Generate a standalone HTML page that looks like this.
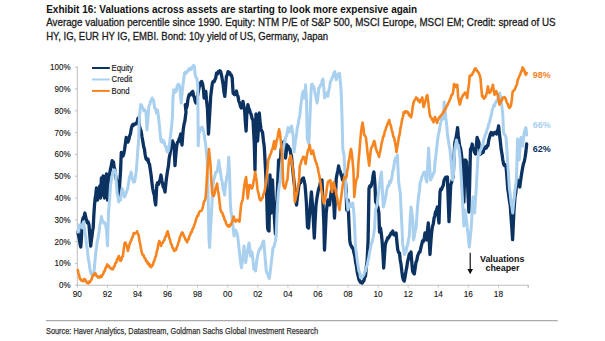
<!DOCTYPE html>
<html><head><meta charset="utf-8"><style>
html,body{margin:0;padding:0;background:#fff;}
svg{display:block;}
text{font-family:"Liberation Sans",sans-serif;}
</style></head><body>
<svg width="605" height="341" viewBox="0 0 605 341">
<rect width="605" height="341" fill="#fff"/>
<text x="46.2" y="12.9" font-size="11.3" font-weight="bold" fill="#111" textLength="371" lengthAdjust="spacingAndGlyphs">Exhibit 16: Valuations across assets are starting to look more expensive again</text>
<text x="46.2" y="26.4" font-size="11" fill="#1a1a1a" stroke="#1a1a1a" stroke-width="0.3" textLength="509.4" lengthAdjust="spacingAndGlyphs">Average valuation percentile since 1990. Equity: NTM P/E of S&amp;P 500, MSCI Europe, MSCI EM; Credit: spread of US</text>
<text x="46.2" y="39.9" font-size="11" fill="#1a1a1a" stroke="#1a1a1a" stroke-width="0.3" textLength="281.9" lengthAdjust="spacingAndGlyphs">HY, IG, EUR HY IG, EMBI. Bond: 10y yield of US, Germany, Japan</text>
<g stroke="#bdbdbd" stroke-width="1" fill="none">
<line x1="77.3" y1="66.3" x2="77.3" y2="285.2"/>
<line x1="77.3" y1="285.2" x2="528" y2="285.2"/>
<line x1="75.2" y1="285.2" x2="77.3" y2="285.2"/><line x1="75.2" y1="263.4" x2="77.3" y2="263.4"/><line x1="75.2" y1="241.6" x2="77.3" y2="241.6"/><line x1="75.2" y1="219.8" x2="77.3" y2="219.8"/><line x1="75.2" y1="198.0" x2="77.3" y2="198.0"/><line x1="75.2" y1="176.2" x2="77.3" y2="176.2"/><line x1="75.2" y1="154.4" x2="77.3" y2="154.4"/><line x1="75.2" y1="132.6" x2="77.3" y2="132.6"/><line x1="75.2" y1="110.8" x2="77.3" y2="110.8"/><line x1="75.2" y1="89.0" x2="77.3" y2="89.0"/><line x1="75.2" y1="67.2" x2="77.3" y2="67.2"/><line x1="77.3" y1="285.2" x2="77.3" y2="287.5"/><line x1="107.4" y1="285.2" x2="107.4" y2="287.5"/><line x1="137.5" y1="285.2" x2="137.5" y2="287.5"/><line x1="167.5" y1="285.2" x2="167.5" y2="287.5"/><line x1="197.6" y1="285.2" x2="197.6" y2="287.5"/><line x1="227.7" y1="285.2" x2="227.7" y2="287.5"/><line x1="257.8" y1="285.2" x2="257.8" y2="287.5"/><line x1="287.9" y1="285.2" x2="287.9" y2="287.5"/><line x1="317.9" y1="285.2" x2="317.9" y2="287.5"/><line x1="348.0" y1="285.2" x2="348.0" y2="287.5"/><line x1="378.1" y1="285.2" x2="378.1" y2="287.5"/><line x1="408.2" y1="285.2" x2="408.2" y2="287.5"/><line x1="438.3" y1="285.2" x2="438.3" y2="287.5"/><line x1="468.3" y1="285.2" x2="468.3" y2="287.5"/><line x1="498.4" y1="285.2" x2="498.4" y2="287.5"/><line x1="528.5" y1="285.2" x2="528.5" y2="287.5"/>
<line x1="528" y1="285.2" x2="528" y2="287.5"/>
</g>
<g font-size="8.7" fill="#111" stroke="#111" stroke-width="0.12" transform="translate(70.5 0) scale(0.92 1) translate(-70.5 0)"><text x="70.5" y="288.3" text-anchor="end">0%</text><text x="70.5" y="266.5" text-anchor="end">10%</text><text x="70.5" y="244.7" text-anchor="end">20%</text><text x="70.5" y="222.9" text-anchor="end">30%</text><text x="70.5" y="201.1" text-anchor="end">40%</text><text x="70.5" y="179.3" text-anchor="end">50%</text><text x="70.5" y="157.5" text-anchor="end">60%</text><text x="70.5" y="135.7" text-anchor="end">70%</text><text x="70.5" y="113.9" text-anchor="end">80%</text><text x="70.5" y="92.1" text-anchor="end">90%</text><text x="70.5" y="70.3" text-anchor="end">100%</text></g>
<g font-size="9.2" fill="#111" stroke="#111" stroke-width="0.12"><text x="77.3" y="297.1" text-anchor="middle" transform="translate(77.3 0) scale(0.9 1) translate(-77.3 0)">90</text><text x="107.4" y="297.1" text-anchor="middle" transform="translate(107.4 0) scale(0.9 1) translate(-107.4 0)">92</text><text x="137.5" y="297.1" text-anchor="middle" transform="translate(137.5 0) scale(0.9 1) translate(-137.5 0)">94</text><text x="167.5" y="297.1" text-anchor="middle" transform="translate(167.5 0) scale(0.9 1) translate(-167.5 0)">96</text><text x="197.6" y="297.1" text-anchor="middle" transform="translate(197.6 0) scale(0.9 1) translate(-197.6 0)">98</text><text x="227.7" y="297.1" text-anchor="middle" transform="translate(227.7 0) scale(0.9 1) translate(-227.7 0)">00</text><text x="257.8" y="297.1" text-anchor="middle" transform="translate(257.8 0) scale(0.9 1) translate(-257.8 0)">02</text><text x="287.9" y="297.1" text-anchor="middle" transform="translate(287.9 0) scale(0.9 1) translate(-287.9 0)">04</text><text x="317.9" y="297.1" text-anchor="middle" transform="translate(317.9 0) scale(0.9 1) translate(-317.9 0)">06</text><text x="348.0" y="297.1" text-anchor="middle" transform="translate(348.0 0) scale(0.9 1) translate(-348.0 0)">08</text><text x="378.1" y="297.1" text-anchor="middle" transform="translate(378.1 0) scale(0.9 1) translate(-378.1 0)">10</text><text x="408.2" y="297.1" text-anchor="middle" transform="translate(408.2 0) scale(0.9 1) translate(-408.2 0)">12</text><text x="438.3" y="297.1" text-anchor="middle" transform="translate(438.3 0) scale(0.9 1) translate(-438.3 0)">14</text><text x="468.3" y="297.1" text-anchor="middle" transform="translate(468.3 0) scale(0.9 1) translate(-468.3 0)">16</text><text x="498.4" y="297.1" text-anchor="middle" transform="translate(498.4 0) scale(0.9 1) translate(-498.4 0)">18</text></g>
<g fill="none" stroke-linejoin="round" stroke-linecap="round">
<path d="M77.8 232.0 L78.7 236.5 L79.5 240.0 L80.2 244.8 L80.8 247.0 L81.4 238.7 L82.0 228.0 L82.4 221.0 L83.2 217.7 L84.1 216.6 L84.9 213.0 L85.7 217.3 L86.5 220.0 L87.3 222.7 L88.2 222.1 L89.0 225.0 L89.8 235.1 L90.7 246.0 L91.3 240.7 L92.0 236.0 L92.6 230.7 L93.2 228.0 L93.8 215.7 L94.5 205.0 L95.1 198.8 L95.7 195.0 L96.5 188.0 L97.5 200.0 L98.5 192.0 L99.2 189.3 L99.8 186.0 L100.5 198.0 L101.4 178.0 L102.5 195.0 L103.1 176.0 L103.8 187.8 L104.5 198.0 L105.5 180.0 L106.5 174.0 L107.5 200.0 L108.5 178.0 L109.5 174.7 L110.5 169.0 L111.3 165.4 L112.2 160.6 L112.8 162.7 L113.5 162.0 L114.1 166.9 L114.7 169.0 L115.3 173.8 L116.0 178.0 L117.0 181.8 L118.0 185.0 L118.8 198.0 L119.7 184.1 L120.5 172.0 L121.3 152.4 L122.2 155.6 L123.0 156.0 L123.8 153.8 L124.5 150.0 L125.3 144.3 L126.2 137.5 L127.1 140.6 L128.0 142.0 L128.8 139.7 L129.6 136.1 L130.4 134.0 L131.2 129.2 L132.0 126.0 L132.8 124.4 L133.7 125.2 L134.5 124.0 L135.5 124.1 L136.5 123.0 L137.2 121.8 L137.9 118.6 L138.6 117.7 L139.5 126.0 L140.3 129.1 L141.1 131.0 L141.9 136.3 L142.8 141.0 L143.6 146.3 L144.4 149.0 L145.2 155.0 L146.1 159.0 L147.1 160.1 L148.0 159.0 L148.7 162.9 L149.5 164.2 L150.2 169.0 L151.0 174.2 L151.9 182.4 L152.7 188.5 L153.5 192.4 L154.3 195.0 L155.0 201.2 L155.7 205.0 L156.8 185.0 L157.6 182.8 L158.5 184.4 L159.3 182.0 L160.2 179.3 L161.0 175.0 L161.8 180.3 L162.5 183.0 L163.3 187.1 L164.2 188.3 L165.0 192.0 L165.8 184.0 L166.5 178.0 L167.6 170.5 L168.4 166.4 L169.2 158.2 L170.0 154.0 L170.8 148.8 L171.7 146.3 L172.5 141.0 L173.2 143.3 L174.0 145.0 L175.0 165.6 L175.8 155.2 L176.7 146.0 L177.5 142.4 L178.3 142.1 L179.1 139.0 L179.9 137.0 L180.8 134.0 L182.0 145.0 L182.7 136.0 L183.3 129.0 L184.1 123.9 L184.9 121.0 L186.0 112.0 L185.3 104.6 L186.5 108.0 L187.2 105.2 L187.9 99.5 L188.6 96.4 L189.4 94.4 L190.3 95.0 L191.1 93.0 L191.9 93.4 L192.7 91.4 L193.6 95.6 L194.5 98.0 L195.2 101.3 L196.0 103.0 L196.8 100.4 L197.5 96.0 L198.4 91.5 L199.3 86.4 L200.1 85.1 L201.0 82.0 L201.8 81.5 L202.7 84.2 L203.5 89.8 L204.1 98.0 L204.9 95.7 L205.8 91.4 L206.5 100.0 L207.4 108.0 L208.5 134.0 L209.7 114.0 L210.7 96.4 L211.6 89.0 L212.4 83.1 L213.2 81.5 L214.1 81.8 L214.9 79.8 L215.7 78.0 L216.5 73.2 L217.3 74.2 L218.2 71.7 L219.0 72.4 L219.8 70.7 L220.7 71.6 L221.5 75.1 L222.3 79.8 L223.1 84.4 L224.0 92.3 L224.8 96.4 L225.6 87.4 L226.4 76.5 L227.2 74.9 L228.1 71.6 L228.9 73.3 L229.8 72.8 L230.6 74.9 L231.4 75.1 L232.2 78.2 L233.1 93.0 L233.9 94.2 L234.7 94.7 L235.6 94.1 L236.5 91.0 L237.2 95.0 L238.0 96.4 L238.8 101.1 L239.7 103.0 L240.5 106.7 L241.3 108.0 L242.2 105.9 L243.0 101.3 L243.8 106.4 L244.6 109.6 L245.3 121.3 L246.1 131.0 L246.8 114.5 L247.9 104.6 L248.7 108.1 L249.5 110.0 L250.3 112.6 L251.2 114.5 L252.1 118.6 L253.0 120.0 L253.7 133.0 L254.3 144.0 L255.0 170.0 L256.0 114.0 L256.8 128.0 L257.6 141.0 L258.5 127.9 L259.3 113.0 L260.1 121.9 L261.0 129.0 L261.8 131.2 L262.5 132.0 L263.4 140.2 L264.3 147.0 L265.1 162.0 L265.8 175.1 L266.5 190.0 L267.6 228.0 L268.3 230.5 L269.0 231.0 L270.0 175.0 L271.0 213.0 L271.8 197.5 L272.5 180.0 L273.2 195.8 L274.0 210.0 L274.7 222.3 L275.4 234.0 L276.2 217.6 L277.0 200.0 L277.8 180.5 L278.6 160.0 L279.3 166.0 L280.0 170.0 L281.0 150.0 L281.8 146.1 L282.5 146.2 L283.3 142.4 L284.5 141.0 L285.5 158.0 L286.2 152.8 L287.0 145.0 L287.7 147.3 L288.4 146.4 L289.2 149.3 L289.9 149.0 L290.7 153.6 L291.5 156.0 L292.2 164.4 L293.0 172.0 L293.9 180.6 L294.8 188.2 L295.6 198.0 L296.5 205.0 L297.2 199.1 L298.0 192.0 L299.0 185.0 L299.8 182.9 L300.6 182.7 L301.4 180.0 L302.1 180.0 L302.8 178.3 L303.5 178.0 L304.2 181.0 L305.0 185.0 L305.7 193.1 L306.4 203.0 L307.5 227.0 L308.5 228.0 L309.2 218.5 L310.0 210.0 L310.7 200.4 L311.4 192.0 L312.2 201.3 L313.0 213.0 L313.6 224.7 L314.3 238.0 L315.1 220.8 L316.0 205.0 L317.0 197.6 L318.0 192.0 L318.8 188.3 L319.7 186.1 L320.5 182.0 L321.2 181.8 L322.0 180.0 L322.9 201.5 L323.8 222.0 L324.5 250.0 L325.4 231.1 L326.2 213.0 L327.1 205.1 L328.0 200.0 L328.8 201.6 L329.5 205.0 L330.4 197.9 L331.2 192.0 L332.0 187.5 L332.8 185.0 L333.6 200.2 L334.5 218.0 L335.4 198.2 L336.2 179.0 L337.0 174.3 L337.8 170.8 L338.6 166.0 L339.4 170.2 L340.3 171.5 L341.1 175.0 L341.8 176.4 L342.5 180.0 L343.5 175.9 L344.5 174.0 L345.3 180.5 L346.1 189.0 L346.7 210.0 L347.4 205.6 L348.0 200.0 L348.9 222.0 L349.8 241.0 L350.6 244.8 L351.4 246.0 L352.2 247.9 L353.0 248.0 L353.9 252.6 L354.8 256.0 L355.6 262.1 L356.4 266.0 L357.2 271.8 L358.1 276.0 L358.9 279.5 L359.7 281.0 L360.5 282.4 L361.4 282.5 L362.2 283.1 L363.0 281.1 L363.8 281.0 L364.6 277.8 L365.5 276.0 L366.3 267.0 L367.1 261.0 L368.1 240.0 L369.0 188.5 L369.8 186.0 L370.6 186.8 L371.4 185.0 L372.5 180.0 L373.2 174.7 L373.9 172.0 L375.0 185.0 L375.6 202.0 L376.4 202.8 L377.2 205.0 L378.0 207.6 L378.9 213.0 L379.5 232.0 L380.5 228.0 L381.2 232.8 L382.0 240.0 L382.9 253.2 L383.7 268.0 L384.5 255.6 L385.3 244.5 L386.1 241.9 L387.0 240.0 L387.8 237.6 L388.5 238.0 L389.5 236.0 L390.3 234.8 L391.1 233.0 L392.0 233.3 L392.8 231.0 L393.6 234.5 L394.5 235.0 L395.3 235.0 L396.1 233.0 L396.9 241.8 L397.7 249.5 L398.6 252.6 L399.5 253.0 L400.2 260.0 L401.0 264.0 L401.9 271.9 L402.7 277.6 L403.5 280.2 L404.3 281.0 L405.1 276.8 L406.0 271.0 L406.8 267.2 L407.5 262.0 L408.4 258.5 L409.3 254.0 L410.1 254.1 L411.0 252.0 L411.8 262.3 L412.6 271.0 L413.5 273.0 L414.3 274.0 L415.1 268.4 L416.0 262.0 L416.8 260.4 L417.6 256.0 L418.4 254.0 L419.2 252.1 L420.0 252.0 L420.9 247.6 L421.7 244.5 L422.5 241.0 L423.4 241.5 L424.2 238.0 L425.0 233.0 L425.8 236.2 L426.5 240.0 L427.4 231.0 L428.3 223.0 L429.1 238.1 L430.0 254.5 L430.8 242.3 L431.6 233.0 L432.4 226.8 L433.3 223.7 L434.1 218.0 L434.8 215.6 L435.5 212.0 L436.4 210.6 L437.4 207.0 L438.2 216.3 L439.0 223.0 L440.0 192.0 L440.8 188.9 L441.6 189.4 L442.4 187.0 L443.2 185.6 L444.1 180.3 L444.9 178.6 L445.7 177.2 L446.6 179.0 L447.4 177.0 L448.2 199.9 L449.0 221.6 L449.9 204.5 L450.7 185.0 L451.5 182.7 L452.4 179.2 L453.2 177.0 L454.0 158.3 L454.8 142.4 L456.0 138.0 L456.8 133.4 L457.6 127.6 L458.3 135.5 L459.0 141.0 L459.8 146.4 L460.6 148.4 L461.4 154.0 L462.2 161.3 L463.0 170.0 L463.9 202.0 L465.0 160.0 L465.8 160.3 L466.5 162.0 L467.3 178.0 L468.1 196.7 L468.9 212.0 L469.7 181.5 L470.5 149.0 L471.4 147.9 L472.2 144.0 L473.0 148.4 L473.8 150.0 L474.6 152.5 L475.5 154.0 L476.3 146.7 L477.1 137.5 L478.0 140.2 L478.8 142.0 L479.6 148.3 L480.5 154.0 L481.5 153.4 L482.5 152.0 L483.2 152.3 L483.9 148.8 L484.6 149.0 L485.4 146.9 L486.2 148.1 L487.1 145.6 L487.9 145.8 L488.7 140.4 L489.5 137.5 L490.4 134.2 L491.2 132.5 L492.0 132.8 L492.9 135.0 L493.7 133.2 L494.5 132.5 L495.5 132.9 L496.5 134.0 L497.2 130.7 L497.9 130.0 L498.6 126.0 L499.5 134.5 L500.3 141.0 L501.1 148.9 L502.0 154.0 L502.8 159.8 L503.6 164.0 L504.4 165.6 L505.3 164.8 L506.1 167.0 L506.9 176.5 L507.7 188.5 L508.5 193.7 L509.4 200.6 L510.2 205.0 L511.0 216.5 L511.8 227.7 L512.6 239.7 L513.3 224.4 L514.0 210.0 L515.0 197.0 L515.8 192.7 L516.5 185.3 L517.3 180.0 L517.9 181.9 L518.5 185.0 L519.1 184.5 L519.8 187.0 L520.4 181.7 L521.0 178.0 L521.8 172.6 L522.6 168.0 L523.4 163.9 L524.3 161.5 L525.1 157.3 L525.9 151.8 L526.7 144.0" stroke="#0c3262" stroke-width="3.3"/>
<path d="M77.8 232.0 L78.4 229.9 L79.0 225.0 L80.0 225.0 L81.0 225.1 L82.0 228.0 L82.8 224.6 L83.5 222.0 L84.2 226.3 L85.0 232.6 L85.7 236.0 L86.5 244.5 L87.4 249.6 L88.2 258.0 L89.0 262.2 L89.9 268.8 L90.7 272.6 L91.6 274.5 L92.4 274.3 L93.2 274.1 L94.0 272.0 L94.8 263.0 L95.7 253.0 L96.5 247.8 L97.3 241.0 L97.9 238.8 L98.5 235.0 L99.2 231.2 L99.8 225.0 L100.6 222.3 L101.4 216.6 L102.2 220.2 L103.0 221.0 L103.9 223.3 L104.7 222.8 L105.6 225.0 L106.5 230.0 L107.5 246.0 L108.5 212.0 L109.1 205.8 L109.7 198.4 L110.5 185.2 L111.3 179.9 L112.2 175.3 L113.0 172.3 L113.8 170.0 L114.7 170.1 L115.5 172.0 L116.3 182.1 L117.1 193.5 L117.9 197.0 L118.8 202.0 L119.7 199.6 L120.5 200.0 L121.3 193.3 L122.1 188.5 L122.9 190.4 L123.8 194.8 L124.6 197.0 L125.5 194.8 L126.5 192.0 L127.2 190.2 L127.9 187.0 L128.7 182.5 L129.5 177.0 L130.3 175.4 L131.2 172.0 L132.1 177.5 L132.9 180.0 L133.7 182.1 L134.5 182.0 L135.3 177.5 L136.2 172.0 L137.0 162.0 L137.8 150.1 L138.6 141.0 L139.5 116.0 L140.7 104.6 L141.6 105.0 L142.5 108.0 L143.2 108.3 L144.0 111.0 L145.0 110.1 L146.0 112.0 L147.0 130.0 L147.9 119.2 L148.9 106.0 L149.8 104.7 L150.6 101.0 L151.4 100.2 L152.2 98.0 L152.8 100.5 L153.5 100.0 L154.7 108.0 L155.6 109.0 L156.4 113.0 L157.5 110.0 L158.5 117.0 L159.3 124.5 L160.2 134.2 L161.0 141.0 L161.8 142.2 L162.7 140.1 L163.5 141.0 L164.3 142.3 L165.1 146.3 L166.0 146.2 L166.8 150.7 L167.6 152.0 L168.3 151.3 L169.0 148.0 L169.9 141.0 L170.9 132.5 L171.7 125.6 L172.5 116.0 L172.9 99.7 L173.7 89.8 L174.6 92.3 L175.5 92.0 L176.3 90.5 L177.1 86.2 L177.9 84.8 L178.7 84.0 L179.5 86.0 L180.3 93.3 L181.2 103.0 L182.0 93.8 L182.8 86.4 L183.7 79.2 L184.5 73.2 L185.3 72.0 L186.1 73.3 L186.9 71.6 L187.7 71.5 L188.6 69.1 L189.4 69.9 L190.2 68.4 L191.1 69.6 L191.9 67.4 L192.7 67.8 L193.6 65.4 L194.4 66.6 L195.2 74.9 L196.1 77.7 L196.9 78.2 L197.7 84.8 L198.0 116.0 L198.2 145.8 L199.0 132.5 L199.8 131.8 L200.6 128.3 L201.4 127.6 L202.2 127.2 L203.0 129.0 L203.9 132.5 L204.8 139.3 L205.6 144.0 L206.4 153.0 L207.2 160.6 L208.2 200.0 L209.0 240.0 L209.6 247.4 L210.5 230.0 L211.3 215.5 L212.2 199.1 L213.0 185.0 L213.8 179.6 L214.7 177.0 L215.3 173.5 L216.0 172.0 L217.1 172.0 L217.9 166.7 L218.8 160.6 L219.7 167.6 L220.5 172.0 L221.3 178.7 L222.2 181.6 L223.0 188.5 L223.8 191.2 L224.6 195.0 L225.3 187.3 L226.0 182.0 L226.9 176.6 L227.9 172.0 L228.7 157.3 L229.5 172.0 L230.4 205.0 L231.2 212.6 L232.0 218.0 L232.7 224.6 L233.4 229.4 L234.1 236.0 L234.8 231.6 L235.5 230.0 L236.4 231.9 L237.4 234.6 L238.2 240.3 L239.0 247.8 L239.9 256.0 L240.7 263.2 L241.5 267.7 L242.2 262.9 L243.0 257.0 L244.0 246.0 L244.8 253.8 L245.7 262.7 L246.5 256.4 L247.3 252.8 L248.2 247.1 L249.0 243.0 L249.8 248.3 L250.6 256.0 L251.3 253.7 L252.0 252.0 L252.9 259.9 L253.9 269.3 L254.8 269.6 L255.6 271.0 L256.4 263.3 L257.2 257.8 L258.0 254.0 L258.9 251.0 L259.7 248.6 L260.5 249.0 L261.4 246.4 L262.2 244.5 L263.0 241.6 L263.8 241.0 L264.7 253.0 L265.5 262.3 L266.3 271.0 L267.1 273.3 L268.0 274.3 L268.6 277.6 L269.3 278.4 L270.3 271.0 L271.3 262.7 L272.1 255.8 L273.0 247.8 L273.8 247.3 L274.6 244.5 L275.4 241.0 L276.2 236.0 L277.0 215.0 L277.6 203.9 L278.3 193.5 L279.1 186.3 L280.0 182.0 L280.8 173.0 L281.5 165.0 L282.2 157.2 L283.0 150.0 L284.0 144.3 L285.0 140.0 L285.8 137.0 L286.6 136.0 L287.4 130.6 L288.2 127.6 L288.9 129.4 L289.5 132.0 L290.5 128.3 L291.5 126.0 L292.4 130.7 L293.2 136.0 L294.0 152.0 L294.8 146.8 L295.5 140.0 L296.4 136.0 L297.2 128.3 L298.1 124.3 L299.0 118.8 L299.8 116.0 L300.6 107.4 L301.4 101.3 L302.2 95.0 L303.1 91.4 L304.0 98.0 L304.8 92.5 L305.6 84.8 L306.5 100.0 L307.2 137.5 L308.0 141.6 L308.9 144.0 L310.0 116.0 L310.7 99.8 L311.4 84.8 L312.2 84.2 L313.0 86.5 L313.8 86.4 L314.6 91.0 L315.5 94.7 L316.3 99.7 L317.1 103.0 L318.0 96.8 L318.8 88.0 L319.6 87.4 L320.5 84.9 L321.3 84.8 L322.1 81.1 L322.9 79.0 L323.8 87.6 L324.6 98.0 L325.3 95.0 L326.0 93.0 L326.9 93.2 L327.9 96.4 L328.7 90.8 L329.6 87.5 L330.4 81.5 L331.2 80.6 L332.1 77.8 L332.9 76.5 L333.9 73.1 L334.8 71.6 L335.5 75.2 L336.2 79.8 L337.0 77.0 L337.8 74.9 L338.6 73.7 L339.5 73.2 L340.3 81.0 L341.1 89.8 L342.0 116.0 L342.8 149.0 L344.0 155.0 L344.7 168.2 L345.4 179.6 L346.1 193.5 L347.1 200.8 L348.0 210.0 L348.7 206.0 L349.4 205.0 L350.1 203.6 L350.9 206.5 L351.6 205.0 L352.7 203.0 L353.4 208.4 L354.0 215.0 L354.8 230.6 L355.6 247.8 L356.4 253.3 L357.3 260.9 L358.1 266.0 L358.9 270.9 L359.7 272.5 L360.5 277.6 L361.3 275.9 L362.2 277.1 L363.0 276.0 L363.8 275.1 L364.7 271.7 L365.5 271.0 L366.3 267.4 L367.2 264.7 L368.0 261.0 L368.8 257.4 L369.7 251.8 L370.5 247.8 L371.3 243.4 L372.2 241.9 L373.0 238.0 L373.8 233.4 L374.6 228.0 L375.5 210.0 L376.4 207.0 L377.2 205.0 L378.0 196.9 L378.9 190.0 L379.7 182.9 L380.5 177.0 L381.5 172.0 L382.4 190.4 L383.3 207.0 L384.1 204.4 L385.0 200.0 L385.8 196.3 L386.7 190.3 L387.5 187.0 L388.2 185.0 L389.0 185.6 L389.7 181.3 L390.5 182.6 L391.2 180.0 L392.0 176.8 L392.7 171.1 L393.5 169.0 L394.2 163.6 L395.0 160.0 L395.8 157.5 L396.6 157.6 L397.4 155.0 L398.0 169.0 L398.7 182.0 L399.5 188.2 L400.4 193.5 L401.2 212.0 L402.0 228.0 L402.7 244.5 L403.5 248.7 L404.3 254.4 L405.1 252.3 L406.0 252.0 L406.8 246.7 L407.6 245.2 L408.5 239.6 L409.3 236.3 L410.1 220.2 L411.0 207.0 L411.9 212.8 L412.8 220.0 L413.5 240.0 L414.4 236.3 L415.2 230.9 L416.1 228.0 L416.9 216.1 L417.7 205.0 L418.5 196.7 L419.4 191.0 L420.2 182.0 L421.0 180.8 L421.9 177.0 L422.7 175.0 L423.6 172.7 L424.5 172.0 L425.3 174.5 L426.0 179.5 L426.8 182.0 L427.7 165.5 L428.6 148.0 L429.6 165.0 L430.5 180.0 L431.5 178.0 L432.2 176.1 L432.9 175.6 L433.6 172.8 L434.3 172.0 L435.0 162.0 L435.8 156.4 L436.7 147.6 L437.5 141.0 L438.3 134.8 L439.2 131.5 L440.0 126.0 L441.0 121.5 L442.0 115.0 L442.6 117.8 L443.3 119.0 L444.1 102.0 L445.0 110.0 L445.8 117.9 L446.6 124.0 L447.3 132.2 L448.0 138.0 L448.9 144.3 L449.9 149.0 L450.7 157.7 L451.5 165.6 L452.5 180.0 L453.5 175.0 L454.1 162.4 L454.8 149.0 L455.6 144.9 L456.5 140.0 L457.3 144.3 L458.2 144.9 L459.0 149.0 L459.8 155.5 L460.5 165.0 L461.4 179.9 L462.3 197.0 L463.1 211.2 L463.8 226.0 L465.0 210.0 L465.8 216.1 L466.5 220.0 L467.2 227.7 L468.0 233.0 L468.6 241.2 L469.3 247.0 L470.1 239.4 L471.0 230.0 L471.8 218.2 L472.5 205.0 L473.0 197.0 L473.8 204.2 L474.6 213.0 L475.5 199.5 L476.3 188.5 L477.1 172.1 L478.0 157.0 L478.8 154.1 L479.6 153.9 L480.5 149.6 L481.3 149.0 L482.1 144.9 L483.0 144.7 L483.8 139.1 L484.6 137.5 L485.4 134.4 L486.2 133.1 L487.1 129.2 L487.9 127.6 L488.7 124.1 L489.5 122.6 L490.4 117.8 L491.2 116.0 L492.1 110.6 L493.0 108.0 L493.8 105.3 L494.5 105.9 L495.3 103.0 L496.1 102.3 L497.0 100.1 L497.8 99.7 L498.6 94.9 L499.5 93.0 L500.2 96.0 L501.0 100.0 L501.9 106.4 L502.8 114.5 L503.5 132.0 L504.3 134.2 L505.2 135.3 L506.0 137.5 L506.8 147.4 L507.5 160.0 L508.4 172.8 L509.4 188.5 L510.2 194.2 L511.0 202.0 L511.9 207.0 L512.7 213.0 L513.5 204.3 L514.3 197.0 L515.0 190.0 L515.8 184.1 L516.5 177.0 L517.6 139.0 L518.5 148.4 L519.3 160.0 L520.1 147.6 L521.0 137.5 L521.8 140.9 L522.6 146.0 L523.5 138.3 L524.3 132.5 L525.1 129.6 L525.9 127.6 L526.7 135.0" stroke="#a9d0ee" stroke-width="3.0"/>
<path d="M77.8 270.0 L78.3 272.6 L79.2 275.4 L80.0 279.2 L80.8 279.0 L81.7 281.0 L82.5 281.0 L83.3 281.2 L84.1 279.0 L84.9 279.2 L85.8 280.5 L86.6 282.5 L87.4 282.7 L88.2 283.4 L89.0 281.6 L89.7 282.3 L90.5 281.0 L91.4 279.8 L92.3 276.5 L93.2 276.0 L94.0 274.1 L94.8 273.5 L95.5 273.3 L96.3 275.9 L97.0 276.0 L97.9 277.4 L98.9 276.7 L99.8 277.6 L100.6 275.9 L101.5 276.9 L102.3 275.0 L103.1 274.4 L104.0 271.4 L104.8 271.0 L105.6 267.9 L106.4 266.9 L107.2 264.4 L108.0 266.5 L108.9 265.8 L109.7 267.7 L110.5 267.7 L111.4 269.0 L112.2 269.3 L113.0 269.3 L113.9 266.4 L114.7 266.0 L115.5 262.9 L116.3 262.7 L117.1 259.4 L117.9 258.6 L118.8 256.0 L119.7 259.6 L120.5 261.0 L121.3 260.0 L122.1 256.7 L122.9 256.0 L123.8 248.8 L124.6 243.0 L125.4 242.6 L126.2 244.5 L127.1 246.7 L127.9 251.0 L128.7 247.4 L129.5 244.5 L130.3 242.0 L131.2 240.6 L132.0 238.0 L132.8 236.7 L133.7 233.0 L134.6 233.7 L135.4 233.0 L136.2 233.0 L137.0 231.3 L137.8 233.7 L138.6 235.0 L139.4 240.5 L140.3 244.5 L141.1 249.3 L141.9 252.8 L142.7 255.0 L143.6 255.3 L144.4 257.8 L145.2 258.1 L146.1 261.0 L146.9 261.0 L147.7 263.6 L148.6 263.2 L149.4 266.0 L150.2 264.9 L151.1 267.2 L151.9 266.0 L152.7 265.2 L153.5 262.3 L154.3 261.0 L155.2 257.4 L156.0 256.0 L156.8 251.3 L157.6 249.0 L158.4 243.9 L159.3 241.0 L160.2 242.7 L161.0 246.0 L161.8 243.4 L162.7 243.1 L163.5 241.0 L164.3 240.5 L165.1 237.1 L165.9 236.3 L166.8 233.3 L167.6 231.3 L168.4 233.8 L169.2 237.9 L170.0 239.6 L170.8 243.5 L171.7 244.7 L172.5 247.8 L173.3 248.4 L174.2 251.0 L175.1 249.9 L176.0 250.0 L176.8 247.1 L177.6 245.5 L178.4 242.4 L179.1 241.2 L179.8 237.1 L180.5 236.0 L181.3 233.9 L182.1 232.4 L182.9 233.1 L183.7 235.7 L184.5 237.0 L185.4 239.7 L186.2 240.0 L187.1 242.4 L187.9 239.2 L188.7 239.3 L189.5 236.0 L190.2 234.9 L190.9 232.4 L191.7 232.3 L192.4 229.2 L193.2 228.4 L194.0 225.6 L194.8 224.2 L195.7 220.6 L196.5 218.3 L197.3 216.2 L198.2 215.6 L199.0 212.5 L199.8 211.7 L200.5 210.7 L201.3 210.8 L202.0 210.0 L202.9 207.0 L203.9 201.8 L204.8 200.6 L205.6 198.4 L206.5 185.0 L207.2 172.0 L208.1 161.7 L208.9 149.0 L210.0 160.0 L210.5 165.0 L211.3 180.4 L212.2 193.5 L213.0 195.4 L213.8 196.0 L214.7 192.9 L215.5 188.5 L216.3 186.8 L217.1 183.6 L217.9 190.2 L218.8 195.0 L219.7 203.3 L220.5 210.0 L221.5 212.3 L222.5 213.0 L223.2 216.2 L223.9 216.5 L224.6 220.0 L225.4 220.9 L226.3 224.0 L227.1 225.0 L227.9 226.4 L228.7 225.5 L229.5 226.5 L230.3 224.5 L231.0 224.7 L231.8 222.0 L232.8 220.0 L233.7 216.6 L234.6 219.9 L235.4 221.6 L236.2 221.3 L237.0 219.9 L237.8 220.0 L238.7 220.0 L239.5 221.6 L240.3 213.0 L241.1 205.0 L241.9 201.7 L242.7 200.0 L243.6 191.8 L244.4 185.2 L245.2 180.8 L246.1 177.0 L246.9 186.9 L247.7 198.4 L248.6 191.0 L249.4 185.0 L250.2 185.3 L251.1 187.9 L251.9 188.5 L252.7 186.2 L253.5 182.0 L254.3 177.9 L255.2 172.0 L255.8 176.3 L256.5 180.0 L257.6 190.0 L258.4 193.0 L259.3 197.6 L260.1 200.0 L260.9 200.5 L261.8 198.2 L262.6 198.0 L263.4 194.2 L264.3 192.5 L265.1 188.5 L265.9 183.3 L266.7 177.0 L267.5 168.6 L268.4 159.0 L269.2 157.9 L270.0 155.1 L270.8 154.0 L271.6 150.7 L272.5 149.0 L273.4 144.5 L274.2 141.0 L275.0 149.0 L275.8 145.6 L276.6 141.0 L277.4 138.0 L278.3 132.9 L279.1 129.2 L280.0 134.3 L280.8 141.0 L281.6 149.9 L282.4 160.6 L283.3 185.0 L284.1 187.3 L284.9 188.5 L285.7 186.1 L286.6 181.8 L287.4 180.0 L288.2 169.8 L289.0 160.6 L289.9 157.7 L290.7 155.7 L291.5 160.0 L292.4 165.6 L293.2 171.9 L294.0 180.0 L294.8 202.0 L295.6 198.8 L296.5 195.0 L297.3 191.2 L298.2 185.8 L299.0 182.0 L299.8 165.6 L300.6 164.4 L301.5 160.5 L302.3 159.0 L303.1 156.9 L304.0 157.0 L304.8 160.1 L305.6 164.0 L306.4 158.4 L307.2 154.0 L308.0 150.1 L308.9 149.1 L309.7 145.0 L310.5 150.2 L311.4 154.0 L312.2 152.8 L313.0 150.7 L313.9 154.7 L314.7 158.0 L315.5 161.3 L316.3 162.6 L317.1 165.6 L317.8 167.8 L318.5 172.0 L319.2 175.0 L320.0 180.0 L320.7 184.1 L321.4 189.5 L322.1 193.5 L323.0 199.5 L323.8 203.4 L324.6 201.1 L325.5 197.0 L326.3 193.0 L327.1 186.4 L327.9 182.0 L328.7 181.0 L329.5 181.2 L330.3 180.0 L331.1 187.0 L332.0 192.0 L332.9 187.5 L333.7 182.0 L334.5 186.1 L335.4 189.0 L336.2 194.0 L337.0 197.0 L337.8 202.0 L338.6 205.4 L339.5 210.0 L340.3 202.9 L341.1 198.0 L342.0 191.1 L342.8 185.0 L343.6 180.8 L344.4 177.0 L345.5 178.0 L346.5 177.0 L347.2 170.9 L347.9 168.1 L348.6 162.0 L349.4 158.9 L350.2 152.7 L351.0 149.0 L351.8 153.3 L352.5 160.0 L353.5 172.0 L354.3 197.0 L355.1 188.4 L355.8 182.0 L356.7 179.0 L357.6 177.0 L358.5 162.0 L359.3 153.1 L360.2 141.3 L361.0 132.5 L361.8 126.7 L362.6 122.6 L363.4 128.1 L364.2 135.0 L365.0 135.7 L365.9 137.5 L366.8 145.2 L367.6 154.0 L368.4 159.3 L369.2 165.6 L370.0 157.5 L370.8 150.0 L371.6 147.2 L372.5 146.0 L373.4 143.0 L374.2 141.0 L374.9 143.0 L375.5 147.0 L376.2 149.2 L377.0 152.0 L378.0 153.4 L379.0 157.0 L379.8 152.6 L380.5 150.0 L381.5 143.9 L382.5 140.0 L383.2 136.4 L384.0 136.0 L384.7 131.6 L385.5 130.1 L386.2 127.3 L386.9 126.4 L387.7 123.2 L388.4 122.4 L389.2 120.0 L390.0 123.9 L390.8 125.3 L391.6 129.6 L392.4 132.0 L393.3 136.5 L394.1 137.8 L395.0 142.0 L395.8 146.4 L396.5 152.0 L397.2 147.0 L398.0 143.0 L398.8 137.4 L399.6 134.7 L400.4 128.5 L401.2 125.0 L402.0 120.2 L402.9 117.0 L403.7 112.3 L404.4 113.1 L405.2 111.3 L405.9 112.7 L406.7 111.3 L407.4 112.3 L408.1 112.2 L408.9 115.3 L409.6 114.3 L410.4 116.5 L411.1 117.3 L411.9 113.2 L412.8 106.3 L413.6 102.4 L414.4 100.4 L415.3 99.6 L416.1 97.4 L416.9 98.9 L417.6 98.7 L418.4 101.0 L419.1 100.7 L419.9 102.4 L420.7 99.7 L421.5 99.3 L422.3 97.4 L423.0 102.5 L423.6 107.0 L424.3 105.0 L425.1 101.8 L425.8 100.1 L426.6 96.2 L427.3 95.0 L428.1 100.6 L429.0 108.7 L429.8 115.0 L430.6 117.2 L431.3 117.4 L432.1 119.9 L432.8 120.3 L433.6 122.3 L434.3 118.8 L435.0 117.0 L436.0 119.2 L437.0 123.0 L438.0 119.9 L439.0 118.0 L439.9 116.4 L440.7 116.2 L441.6 114.5 L442.4 114.0 L443.2 112.1 L444.0 112.0 L444.9 109.2 L445.7 108.8 L446.6 106.3 L447.4 105.2 L448.2 103.0 L449.0 102.0 L449.9 99.4 L450.7 98.0 L451.5 95.0 L452.4 94.6 L453.2 91.4 L454.0 84.0 L454.8 84.9 L455.5 87.0 L456.4 84.9 L457.3 84.8 L458.1 96.4 L459.0 101.3 L459.8 104.6 L460.6 102.0 L461.5 98.0 L462.3 96.9 L463.1 94.7 L463.9 94.8 L464.8 92.7 L465.6 93.0 L466.4 94.9 L467.2 98.0 L468.0 90.5 L468.9 84.8 L469.7 75.7 L470.5 76.1 L471.2 74.8 L472.0 75.0 L472.9 72.5 L473.8 71.6 L474.6 69.0 L475.5 68.3 L476.2 69.3 L477.0 71.0 L477.9 71.5 L478.8 73.2 L479.6 75.1 L480.5 78.2 L481.3 88.0 L482.1 96.4 L482.9 95.8 L483.8 98.6 L484.6 98.0 L485.4 97.1 L486.2 95.0 L487.0 91.8 L487.9 86.4 L488.7 90.7 L489.5 93.0 L490.4 92.0 L491.2 90.0 L492.0 88.1 L492.9 84.8 L493.7 90.1 L494.5 94.7 L495.4 93.9 L496.2 91.0 L497.0 93.7 L497.8 94.7 L498.6 100.7 L499.5 104.6 L500.4 103.3 L501.2 100.0 L502.0 100.2 L502.8 97.7 L503.6 98.0 L504.5 97.2 L505.3 98.0 L506.1 100.2 L506.9 103.0 L507.7 103.9 L508.6 106.6 L509.4 108.0 L510.2 106.9 L511.0 105.0 L511.9 99.2 L512.7 91.4 L513.5 91.0 L514.3 90.0 L515.1 88.6 L516.0 86.2 L516.8 84.8 L517.6 80.4 L518.5 78.2 L519.3 76.1 L520.1 74.9 L520.9 72.1 L521.8 70.9 L522.6 67.4 L523.5 69.0 L524.3 69.9 L525.1 73.5 L525.9 74.9 L526.7 73.0" stroke="#f6841f" stroke-width="2.6"/>
</g>
<g stroke-width="2" fill="none">
<line x1="92" y1="68" x2="109.8" y2="68" stroke="#0c3262"/>
<line x1="92" y1="79.5" x2="109.8" y2="79.5" stroke="#a9d0ee"/>
<line x1="92" y1="90.9" x2="109.8" y2="90.9" stroke="#f6841f"/>
</g>
<g font-size="8.6" fill="#111" stroke="#111" stroke-width="0.12" transform="translate(111.6 0) scale(0.9 1) translate(-111.6 0)">
<text x="111.6" y="70.6">Equity</text>
<text x="111.6" y="82.4">Credit</text>
<text x="111.6" y="94.0">Bond</text>
</g>
<g font-size="9" font-weight="bold">
<text x="532.7" y="78.3" fill="#f6841f">98%</text>
<text x="532.7" y="128.2" fill="#a9d0ee">66%</text>
<text x="532.7" y="152.2" fill="#0c3262">62%</text>
</g>
<g font-size="8.9" font-weight="bold" fill="#111" text-anchor="middle">
<text x="502.2" y="261.5">Valuations</text>
<text x="502.5" y="271">cheaper</text>
</g>
<line x1="470.2" y1="252.8" x2="470.2" y2="270.5" stroke="#111" stroke-width="1.2"/>
<path d="M467.4 269 L473 269 L470.2 274.2 Z" fill="#111"/>
<line x1="46" y1="320.7" x2="557.6" y2="320.7" stroke="#aaa" stroke-width="1.2"/>
<text x="46" y="334.3" font-size="9.3" fill="#333" stroke="#333" stroke-width="0.25" textLength="272" lengthAdjust="spacingAndGlyphs">Source: Haver Analytics, Datastream, Goldman Sachs Global Investment Research</text>
</svg>
</body></html>
